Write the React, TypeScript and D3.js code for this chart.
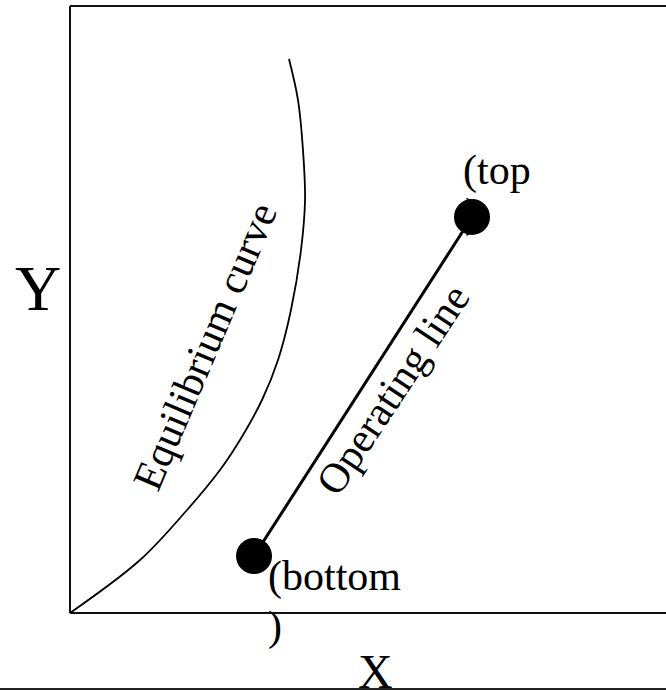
import React from "react";
import * as d3 from "d3";

// Equilibrium curve points (data units, 0-100 on both axes)
const eqX = [0, 11.67, 19.5, 25, 28.33, 32, 34.67, 36.83, 38.5, 39.17, 38.83, 38, 36.5];
const eqY = [0, 8.73, 16.97, 23.56, 28.5, 35.09, 41.68, 49.92, 59.8, 68.04, 76.28, 84.51, 91.27];

// Operating line end points: bottom, top
const opX = [30.67, 67];
const opY = [9.39, 65.24];
const opLabels = ["(bottom", "(top"];

const W = 666;
const H = 691;

const FONT = '"Liberation Serif", "Times New Roman", Times, "DejaVu Serif", serif';

export default function App() {
  const x = d3.scaleLinear().domain([0, 100]).range([70, 670]);
  const y = d3.scaleLinear().domain([0, 100]).range([613, 6]);

  const eqPts: [number, number][] = eqX.map((v, i) => [v, eqY[i]]);
  const eqLine = d3
    .line<[number, number]>()
    .x((d) => x(d[0]))
    .y((d) => y(d[1]))
    .curve(d3.curveCatmullRom.alpha(0.5));

  const opPts: [number, number][] = opX.map((v, i) => [v, opY[i]]);
  const opLine = d3
    .line<[number, number]>()
    .x((d) => x(d[0]))
    .y((d) => y(d[1]));

  const ts = (size: number) => ({ fontFamily: FONT, fontSize: size + "px" });

  return (
    <svg
      width={W}
      height={H}
      style={{ position: "absolute", left: 0, top: 0, background: "#fff" }}
    >
      {/* hidden ")" of "(top)" behind the dot */}
      <text x={x(opX[1]) - 7} y={y(opY[1]) + 10} style={ts(42)} fill="#000">)</text>

      {/* box */}
      <line x1={x(0)} y1={y(100)} x2={W + 10} y2={y(100)} stroke="#111" strokeWidth={2} />
      <line x1={x(0)} y1={y(100)} x2={x(0)} y2={y(0)} stroke="#111" strokeWidth={2} />
      <line x1={x(0)} y1={y(0)} x2={W + 10} y2={y(0)} stroke="#111" strokeWidth={2} />

      {/* equilibrium curve */}
      <path d={eqLine(eqPts) || ""} fill="none" stroke="#000" strokeWidth={1.8} />

      {/* operating line */}
      <path d={opLine(opPts) || ""} fill="none" stroke="#000" strokeWidth={3} />
      {opPts.map((p, i) => (
        <circle key={i} cx={x(p[0])} cy={y(p[1])} r={18} fill="#000" />
      ))}

      {/* point labels */}
      <text x={x(opX[0]) + 14} y={y(opY[0]) + 34} style={ts(42)} fill="#000">{opLabels[0]}</text>
      <text x={x(opX[0]) + 14} y={y(opY[0]) + 84} style={ts(42)} fill="#000">)</text>
      <text x={x(opX[1]) - 9} y={y(opY[1]) - 33} style={ts(42)} fill="#000">{opLabels[1]}</text>

      {/* rotated labels */}
      <text transform="translate(158,493) rotate(-67)" style={ts(42)} fill="#000">
        Equilibrium curve
      </text>
      <text transform="translate(338,498) rotate(-56.5)" style={ts(42)} fill="#000">
        Operating line
      </text>

      {/* axis labels */}
      <text x={15} y={310} style={ts(64)} fill="#000">Y</text>
      <text x={358} y={688} style={ts(48)} fill="#000">X</text>
      <line x1={0} y1={689} x2={W} y2={689} stroke="#222" strokeWidth={2} />
    </svg>
  );
}
